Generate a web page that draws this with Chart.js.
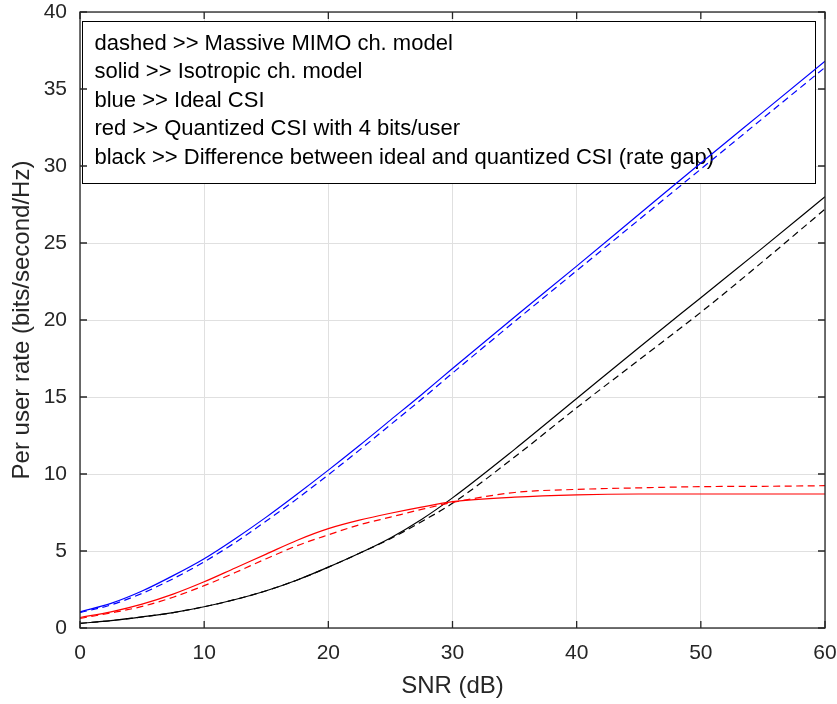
<!DOCTYPE html>
<html>
<head>
<meta charset="utf-8">
<script src="https://cdn.jsdelivr.net/npm/chart.js@4"></script>
<style>
  html, body { margin: 0; padding: 0; background: #fff; }
  #wrap { width: 837px; height: 704px; }
</style>
</head>
<body>
<div id="wrap"><canvas id="rateChart" width="837" height="704"></canvas></div>
<script>
// SNR in dB
const snr = [0, 2.5, 5, 7.5, 10, 12.5, 15, 17.5, 20, 22.5, 25, 27.5, 30, 35, 40, 45, 50, 55, 60];

// per user rate, bits/second/Hz
const idealIso     = [1.05, 1.6, 2.4, 3.4, 4.5, 5.8, 7.2, 8.7, 10.25, 11.85, 13.5, 15.15, 16.85, 20.2, 23.5, 26.85, 30.2, 33.5, 36.8];
const idealMassive = [1.0, 1.5, 2.25, 3.2, 4.3, 5.55, 6.95, 8.4, 9.95, 11.55, 13.2, 14.85, 16.55, 19.9, 23.2, 26.5, 29.8, 33.1, 36.4];
const quantIso     = [0.68, 1.05, 1.55, 2.2, 3.0, 3.9, 4.8, 5.7, 6.45, 7.0, 7.45, 7.85, 8.2, 8.5, 8.65, 8.7, 8.7, 8.7, 8.7];
const quantMassive = [0.62, 0.98, 1.4, 2.0, 2.75, 3.6, 4.5, 5.35, 6.05, 6.7, 7.2, 7.7, 8.15, 8.8, 9.0, 9.1, 9.18, 9.2, 9.24];
const gapIso       = [0.3, 0.48, 0.72, 1.0, 1.38, 1.85, 2.42, 3.12, 3.95, 4.85, 5.85, 7.05, 8.45, 11.6, 14.9, 18.2, 21.45, 24.7, 28.0];
const gapMassive   = [0.3, 0.48, 0.72, 1.0, 1.38, 1.85, 2.42, 3.12, 3.95, 4.85, 5.8, 6.9, 8.1, 11.1, 14.3, 17.4, 20.5, 23.8, 27.2];

const xTicks = [0, 10, 20, 30, 40, 50, 60];
const yTicks = [0, 5, 10, 15, 20, 25, 30, 35, 40];

const noteLines = [
  'dashed >> Massive MIMO ch. model',
  'solid >> Isotropic ch. model',
  'blue >> Ideal CSI',
  'red >> Quantized CSI with 4 bits/user',
  'black >> Difference between ideal and quantized CSI (rate gap)'
];

const FONT = 'Liberation Sans, Arial, Helvetica, sans-serif';
const AXIS_COLOR = '#262626';

function series(values, color, dashed) {
  return {
    data: snr.map((x, i) => ({ x: x, y: values[i] })),
    borderColor: color,
    borderWidth: 1.2,
    borderDash: dashed ? [7, 4.5] : [],
    pointRadius: 0,
    fill: false,
    cubicInterpolationMode: 'monotone'
  };
}

// white text box with the notes, sits under the curves
const noteBox = {
  id: 'noteBox',
  beforeDatasetsDraw(chart) {
    const ctx = chart.ctx;
    const x = chart.scales.x, y = chart.scales.y;
    const left = Math.round(x.getPixelForValue(0.15)) + 0.5;
    const right = Math.round(x.getPixelForValue(59.2)) + 0.5;
    const top = Math.round(y.getPixelForValue(39.42)) + 0.5;
    const bottom = Math.round(y.getPixelForValue(28.9)) + 0.5;
    ctx.save();
    ctx.fillStyle = '#fff';
    ctx.fillRect(left, top, right - left, bottom - top);
    ctx.strokeStyle = '#000';
    ctx.lineWidth = 1;
    ctx.strokeRect(left, top, right - left, bottom - top);
    ctx.fillStyle = '#000';
    ctx.font = '22px ' + FONT;
    ctx.textBaseline = 'middle';
    noteLines.forEach((t, i) => {
      ctx.fillText(t, left + 12, top + 22 + i * 28.5);
    });
    ctx.restore();
  }
};

// matlab style box with inward ticks
const axesBox = {
  id: 'axesBox',
  afterDraw(chart) {
    const ctx = chart.ctx;
    const a = chart.chartArea;
    const x = chart.scales.x, y = chart.scales.y;
    ctx.save();
    ctx.strokeStyle = AXIS_COLOR;
    ctx.lineWidth = 1.3;
    ctx.strokeRect(a.left, a.top, a.right - a.left, a.bottom - a.top);
    ctx.beginPath();
    xTicks.forEach(v => {
      const px = x.getPixelForValue(v);
      ctx.moveTo(px, a.bottom); ctx.lineTo(px, a.bottom - 7);
      ctx.moveTo(px, a.top); ctx.lineTo(px, a.top + 7);
    });
    yTicks.forEach(v => {
      const py = y.getPixelForValue(v);
      ctx.moveTo(a.left, py); ctx.lineTo(a.left + 7, py);
      ctx.moveTo(a.right, py); ctx.lineTo(a.right - 7, py);
    });
    ctx.stroke();
    ctx.restore();
  }
};

new Chart(document.getElementById('rateChart'), {
  type: 'line',
  data: {
    datasets: [
      series(idealIso, '#0000ff', false),
      series(idealMassive, '#0000ff', true),
      series(quantIso, '#ff0000', false),
      series(quantMassive, '#ff0000', true),
      series(gapIso, '#000000', false),
      series(gapMassive, '#000000', true)
    ]
  },
  options: {
    responsive: false,
    animation: false,
    layout: { padding: { top: 12, right: 12, left: 0, bottom: 0 } },
    plugins: {
      legend: { display: false },
      tooltip: { enabled: false }
    },
    scales: {
      x: {
        type: 'linear',
        min: 0,
        max: 60,
        afterBuildTicks: s => { s.ticks = xTicks.map(v => ({ value: v })); },
        afterFit: s => { s.height = 76; s.paddingLeft = 0; s.paddingRight = 0; },
        grid: { color: '#e0e0e0', lineWidth: 1, drawTicks: false },
        border: { display: false },
        ticks: { color: AXIS_COLOR, padding: 13, font: { family: FONT, size: 21 } },
        title: {
          display: true,
          text: 'SNR (dB)',
          color: AXIS_COLOR,
          padding: { top: 0, bottom: 3 },
          font: { family: FONT, size: 24 }
        }
      },
      y: {
        min: 0,
        max: 40,
        afterBuildTicks: s => { s.ticks = yTicks.map(v => ({ value: v })); },
        afterFit: s => { s.width = 80; s.paddingTop = 0; s.paddingBottom = 0; },
        grid: { color: '#e0e0e0', lineWidth: 1, drawTicks: false },
        border: { display: false },
        ticks: { color: AXIS_COLOR, padding: 13, font: { family: FONT, size: 21 } },
        title: {
          display: true,
          text: 'Per user rate (bits/second/Hz)',
          color: AXIS_COLOR,
          padding: { top: 8, bottom: 0 },
          font: { family: FONT, size: 24 }
        }
      }
    }
  },
  plugins: [noteBox, axesBox]
});
</script>
</body>
</html>
